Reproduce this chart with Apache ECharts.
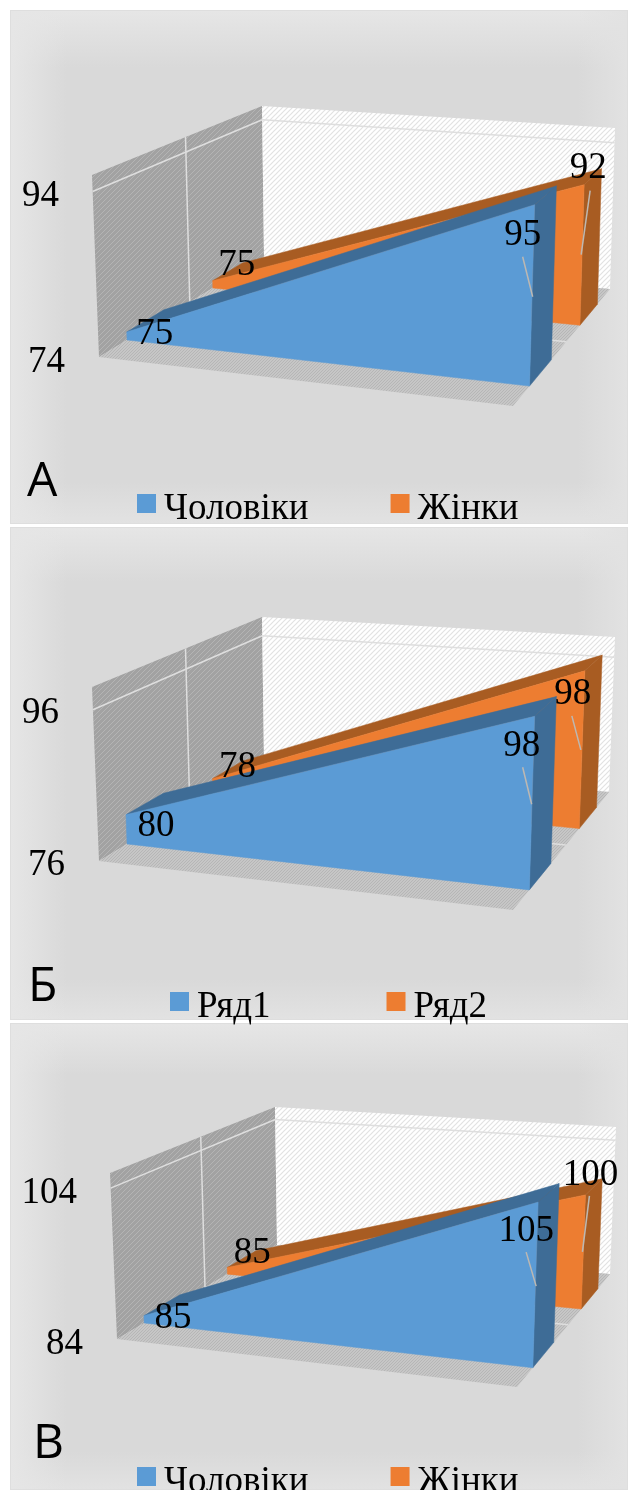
<!DOCTYPE html>
<html>
<head>
<meta charset="utf-8">
<style>
html, body { margin: 0; padding: 0; background: #fff; width: 628px; height: 1490px; overflow: hidden; }
.panel {
    position: absolute; left: 10px; width: 618px; box-sizing: border-box; border: 1px solid #dedede;
    background:
        linear-gradient(to right, rgba(230,230,230,1), rgba(230,230,230,0) 9%, rgba(230,230,230,0) 92%, rgba(226,226,226,1)),
        linear-gradient(to bottom, rgba(230,230,230,1), rgba(230,230,230,0) 11%, rgba(230,230,230,0) 92%, rgba(226,226,226,1)),
        #d9d9d9;
}
#main { position: absolute; left: 0; top: 0; width: 628px; height: 1490px; }
</style>
<script src="https://cdn.jsdelivr.net/npm/echarts@6/dist/echarts.min.js"></script>
</head>
<body>
<div class="panel" style="top:10px;height:514px"></div>
<div class="panel" style="top:527px;height:493px"></div>
<div class="panel" style="top:1023px;height:467px"></div>
<div id="main"></div>
<script>
var categories = ['1', '2'];

var menA = [75, 95];
var womenA = [75, 92];
var menB = [80, 98];
var womenB = [78, 98];
var menC = [85, 105];
var womenC = [85, 100];

var ticksA = [74, 94];
var ticksB = [76, 96];
var ticksC = [84, 104];

var rangeA = [74, 96];
var rangeB = [76, 99];
var rangeC = [84, 106];

var lettersABC = ['А', 'Б', 'В'];
var legendA = ['Чоловіки', 'Жінки'];
var legendB = ['Ряд1', 'Ряд2'];
var legendC = ['Чоловіки', 'Жінки'];

// depth of the two area slabs inside the box, 0 = front, 1 = back wall
var zMen = [0.17, 0.395];
var zWomen = [0.69, 0.87];
var zGrid = 0.55;

var BLUE = '#5b9bd5', BLUE_DARK = '#3e6c96';
var ORANGE = '#ed7d31', ORANGE_DARK = '#a85c22';
var LABEL_FONT = '37px "Liberation Serif"';

// where the box corners land on the page, and label offsets from their point
var layoutA = {
    grid: { left: 99, top: 180, width: 414, height: 182 },
    fl0: [99, 357], fl1: [92, 175], bl0: [264, 257], bl1: [262, 106],
    fr0: [513, 406], fr1: [518.5, 210], br0: [610, 289], br1: [615, 128],
    men: [{ d: [28, 2] }, { d: [-12, 31], lead: [-12, 52, -2, 92] }],
    women: [{ d: [24, -15] }, { d: [4, -16], lead: [6, 6, -3, 70] }]
};
var layoutB = {
    grid: { left: 99, top: 691, width: 414, height: 174 },
    fl0: [99, 861], fl1: [92, 687], bl0: [264, 761], bl1: [262, 617],
    fr0: [513, 910], fr1: [518.5, 723], br0: [609, 792], br1: [615, 637],
    men: [{ d: [30, 12] }, { d: [-13, 30], lead: [-12, 51, -3, 88] }],
    women: [{ d: [25, -11] }, { d: [-12, 23], lead: [-13, 45, -4, 79] }]
};
var layoutC = {
    grid: { left: 117, top: 1178, width: 400, height: 166 },
    fl0: [117, 1339], fl1: [110, 1173], bl0: [277, 1245], bl1: [275, 1107],
    fr0: [517, 1387], fr1: [522.5, 1208], br0: [610, 1274], br1: [616, 1127],
    men: [{ d: [29, 3] }, { d: [-12, 29], lead: [-12, 50, -2, 84] }],
    women: [{ d: [25, -14] }, { d: [5, -20], lead: [4, 1, -3, 57] }]
};

function hatch(bg, line, size, width) {
    var c = document.createElement('canvas');
    c.width = size; c.height = size;
    var g = c.getContext('2d');
    g.fillStyle = bg;
    g.fillRect(0, 0, size, size);
    g.strokeStyle = line;
    g.lineWidth = width;
    g.beginPath();
    g.moveTo(-1, size + 1); g.lineTo(size + 1, -1);
    g.moveTo(-1, 1); g.lineTo(1, -1);
    g.moveTo(size - 1, size + 1); g.lineTo(size + 1, size - 1);
    g.stroke();
    return { image: c, repeat: 'repeat' };
}
var wallLeft = hatch('#a2a2a2', '#b4b4b4', 5, 1);
var wallBack = hatch('#ffffff', '#e2e2e2', 5, 1.2);
var wallFloor = hatch('#c6c6c6', '#b6b6b6', 3, 1);

function lerp(a, b, t) {
    return [a[0] + (b[0] - a[0]) * t, a[1] + (b[1] - a[1]) * t];
}
// u across the chart, v up the value axis, z into the chart
function project(lay, u, v, z) {
    var front = lerp(lerp(lay.fl0, lay.fr0, u), lerp(lay.fl1, lay.fr1, u), v);
    var back = lerp(lerp(lay.bl0, lay.br0, u), lerp(lay.bl1, lay.br1, u), v);
    return lerp(front, back, z);
}
// read the position from the axes, then push it into the box
function toBox(params, api, cat, value) {
    var cs = params.coordSys;
    var p = api.coord([cat, value]);
    return { u: (p[0] - cs.x) / cs.width, v: (cs.y + cs.height - p[1]) / cs.height };
}

function renderWalls(lay, ticks) {
    return function (params, api) {
        var kids = [];
        function poly(pts, fill) {
            kids.push({ type: 'polygon', shape: { points: pts }, style: { fill: fill }, silent: true });
        }
        function line(a, b, w) {
            kids.push({ type: 'line', shape: { x1: a[0], y1: a[1], x2: b[0], y2: b[1] }, style: { stroke: '#dedede', lineWidth: w }, silent: true });
        }
        poly([project(lay, 0, 0, 0), project(lay, 0, 1, 0), project(lay, 0, 1, 1), project(lay, 0, 0, 1)], wallLeft);
        poly([project(lay, 0, 0, 1), project(lay, 0, 1, 1), project(lay, 1, 1, 1), project(lay, 1, 0, 1)], wallBack);
        poly([project(lay, 0, 0, 0), project(lay, 0, 0, 1), project(lay, 1, 0, 1), project(lay, 1, 0, 0)], wallFloor);
        line(project(lay, 0, 0, zGrid), project(lay, 0, 1, zGrid), 1.5);
        line(project(lay, 0, 0, zGrid), project(lay, 1, 0, zGrid), 1.5);
        ticks.forEach(function (t) {
            var v = toBox(params, api, 0, t).v;
            if (t == ticks[0]) return;
            line(project(lay, 0, v, 0), project(lay, 0, v, 1), 1.5);
            line(project(lay, 0, v, 1), project(lay, 1, v, 1), 1.5);
        });
        return { type: 'group', children: kids };
    };
}

function renderArea(lay, values, zz, color, dark) {
    return function (params, api) {
        var i = params.dataIndex;
        if (i >= values.length - 1) return null;
        var a = toBox(params, api, i, values[i]);
        var b = toBox(params, api, i + 1, values[i + 1]);
        var z0 = zz[0], z1 = zz[1];
        function poly(pts, fill) {
            return { type: 'polygon', shape: { points: pts }, style: { fill: fill, stroke: fill, lineWidth: 0.5 }, silent: true };
        }
        return {
            type: 'group',
            children: [
                poly([project(lay, b.u, 0, z0), project(lay, b.u, b.v, z0), project(lay, b.u, b.v, z1), project(lay, b.u, 0, z1)], dark),
                poly([project(lay, a.u, a.v, z0), project(lay, b.u, b.v, z0), project(lay, b.u, b.v, z1), project(lay, a.u, a.v, z1)], dark),
                poly([project(lay, a.u, 0, z0), project(lay, a.u, a.v, z0), project(lay, b.u, b.v, z0), project(lay, b.u, 0, z0)], color)
            ]
        };
    };
}

function renderLabels(lay, values, zz, place) {
    return function (params, api) {
        var i = params.dataIndex;
        var a = toBox(params, api, i, values[i]);
        var p = project(lay, a.u, a.v, zz[0]);
        var spot = place[i];
        var kids = [];
        if (spot.lead) {
            kids.push({
                type: 'line',
                shape: { x1: p[0] + spot.lead[0], y1: p[1] + spot.lead[1], x2: p[0] + spot.lead[2], y2: p[1] + spot.lead[3] },
                style: { stroke: '#bdb8b2', lineWidth: 1.5 }, silent: true
            });
        }
        kids.push({
            type: 'text',
            style: { text: String(values[i]), x: p[0] + spot.d[0], y: p[1] + spot.d[1], font: LABEL_FONT, fill: '#000', align: 'center', verticalAlign: 'middle' },
            silent: true
        });
        return { type: 'group', children: kids };
    };
}

function pairs(values) {
    return values.map(function (v, i) { return [i, v]; });
}

var grids = [], xAxes = [], yAxes = [], series = [], legends = [], titles = [];

function addPanel(idx, lay, men, women, ticks, range, names, legendTop, letterTop, letterLeft, legendLeft, gap) {
    grids.push(lay.grid);
    xAxes.push({ type: 'category', gridIndex: idx, data: categories, boundaryGap: false, show: false });
    yAxes.push({
        type: 'value', gridIndex: idx, min: range[0], max: range[1],
        axisLine: { show: false }, axisTick: { show: false }, splitLine: { show: false },
        axisLabel: {
            margin: 34,
            customValues: ticks,
            formatter: function (v) { return v == ticks[1] ? '{top|' + v + '}' : '{low|' + v + '}'; },
            rich: {
                top: { fontFamily: 'Liberation Serif', fontSize: 37, color: '#000', padding: [0, 6, 0, 0] },
                low: { fontFamily: 'Liberation Serif', fontSize: 37, color: '#000' }
            }
        }
    });
    var base = { type: 'custom', xAxisIndex: idx, yAxisIndex: idx, clip: false };
    series.push(Object.assign({}, base, { name: 'walls' + idx, z: 1, data: [[0, range[0]]], renderItem: renderWalls(lay, ticks) }));
    series.push(Object.assign({}, base, { name: names[1], z: 2, data: pairs(women), itemStyle: { color: ORANGE }, renderItem: renderArea(lay, women, zWomen, ORANGE, ORANGE_DARK) }));
    series.push(Object.assign({}, base, { name: names[0], z: 3, data: pairs(men), itemStyle: { color: BLUE }, renderItem: renderArea(lay, men, zMen, BLUE, BLUE_DARK) }));
    series.push(Object.assign({}, base, { name: 'womenLabels' + idx, z: 4, data: pairs(women), renderItem: renderLabels(lay, women, zWomen, lay.women) }));
    series.push(Object.assign({}, base, { name: 'menLabels' + idx, z: 4, data: pairs(men), renderItem: renderLabels(lay, men, zMen, lay.men) }));
    legends.push({
        data: names, left: legendLeft, top: legendTop, padding: 0, itemWidth: 19, itemHeight: 19, itemGap: gap, selectedMode: false, icon: 'rect',
        formatter: '{t|{name}}',
        textStyle: {
            rich: { t: { fontFamily: 'Liberation Serif', fontSize: 37, color: '#000', padding: [12, 0, 0, 3] } }
        }
    });
    titles.push({
        text: lettersABC[idx], left: letterLeft, top: letterTop, padding: 0,
        textStyle: { fontFamily: 'Open Sans', fontSize: 48, fontWeight: 'normal', color: '#000' }
    });
}

addPanel(0, layoutA, menA, womenA, ticksA, rangeA, legendA, 491, 458, 27, 137, 82);
addPanel(1, layoutB, menB, womenB, ticksB, rangeB, legendB, 989, 963, 28, 170, 116);
addPanel(2, layoutC, menC, womenC, ticksC, rangeC, legendC, 1464, 1420, 33, 137, 82);

var myChart = echarts.init(document.getElementById('main'));
myChart.setOption({
    animation: false,
    title: titles,
    legend: legends,
    grid: grids,
    xAxis: xAxes,
    yAxis: yAxes,
    series: series
});
</script>
</body>
</html>
